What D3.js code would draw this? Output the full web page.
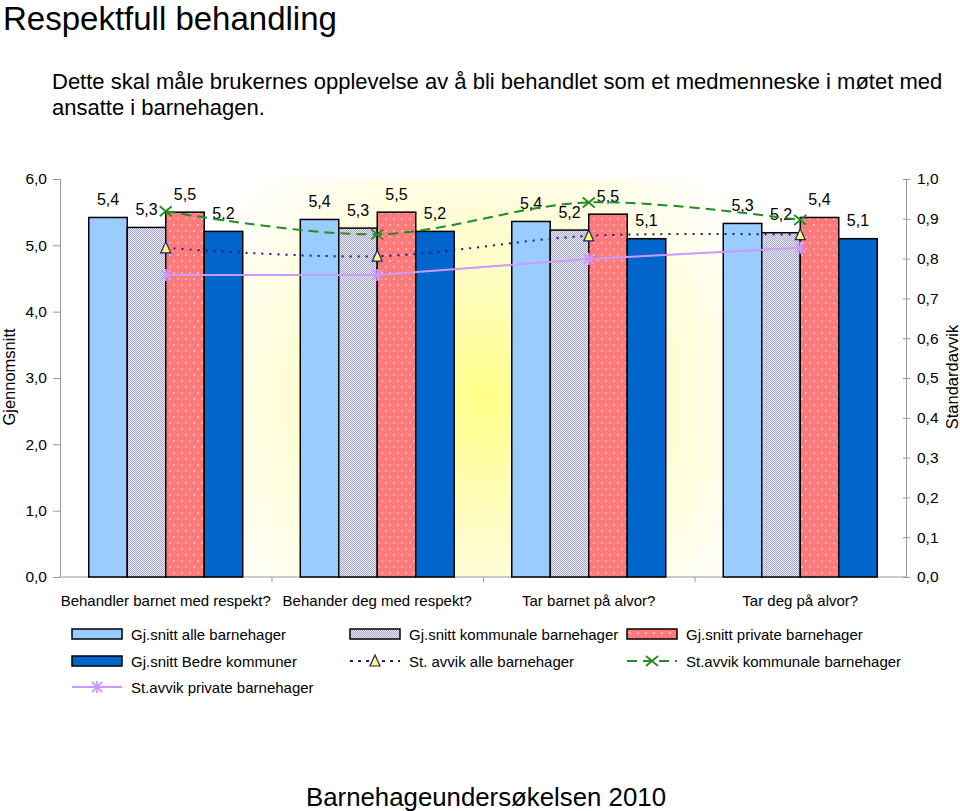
<!DOCTYPE html>
<html><head><meta charset="utf-8">
<script src="https://cdn.jsdelivr.net/npm/d3@7"></script>
<style>
body{margin:0;background:#fff;}
text{font-family:"Liberation Sans",Arial,Helvetica,sans-serif;fill:#000;}
</style></head>
<body>
<svg id="chart" width="960" height="811"></svg>
<script>
const categories = ["Behandler barnet med respekt?","Behander deg med respekt?","Tar barnet på alvor?","Tar deg på alvor?"];
const barSeriesNames = ["Gj.snitt alle barnehager","Gj.snitt kommunale barnehager","Gj.snitt private barnehager","Gj.snitt Bedre kommuner"];
const snittAlle = [5.42, 5.39, 5.36, 5.33];
const snittKommunale = [5.27, 5.26, 5.23, 5.19];
const snittPrivate = [5.50, 5.50, 5.47, 5.42];
const snittBedre = [5.21, 5.21, 5.10, 5.10];
const lineSeriesNames = ["St. avvik alle barnehager","St.avvik kommunale barnehager","St.avvik private barnehager"];
const avvikAlle = [0.827, 0.806, 0.857, 0.860];
const avvikKommunale = [0.919, 0.861, 0.941, 0.897];
const avvikPrivate = [0.759, 0.759, 0.799, 0.827];
const leftTicks = [0,1,2,3,4,5,6];
const rightTicks = [0,0.1,0.2,0.3,0.4,0.5,0.6,0.7,0.8,0.9,1.0];

const svg = d3.select("#chart");
const L = 60, R = 906, T = 179, B = 577;
const fmt = v => d3.format(".1f")(v).replace(".", ",");

const defs = svg.append("defs");
const gcx = (L+R)/2, gcy = (T+B)/2+20;
const rg = defs.append("radialGradient").attr("id","bg").attr("gradientUnits","userSpaceOnUse")
  .attr("cx",gcx).attr("cy",gcy).attr("r",280)
  .attr("gradientTransform",`translate(${gcx},${gcy}) scale(1.15,1.1) translate(${-gcx},${-gcy})`);
rg.append("stop").attr("offset","0").attr("stop-color","#ffff88");
rg.append("stop").attr("offset","0.45").attr("stop-color","#fffcc8");
rg.append("stop").attr("offset","1").attr("stop-color","#ffffff");

const pk = defs.append("pattern").attr("id","pk").attr("patternUnits","userSpaceOnUse").attr("width",2).attr("height",2);
pk.append("rect").attr("width",2).attr("height",2).attr("fill","#eeeefa");
pk.append("rect").attr("width",1).attr("height",1).attr("fill","#a4a4d4");
pk.append("rect").attr("x",1).attr("y",1).attr("width",1).attr("height",1).attr("fill","#a4a4d4");

const pp = defs.append("pattern").attr("id","pp").attr("patternUnits","userSpaceOnUse").attr("width",8).attr("height",12);
pp.append("rect").attr("width",8).attr("height",12).attr("fill","#ff7a7a");
pp.append("circle").attr("cx",2).attr("cy",3).attr("r",0.9).attr("fill","#ffd0d0");
pp.append("circle").attr("cx",6).attr("cy",9).attr("r",0.9).attr("fill","#ffd0d0");

// Titles
svg.append("text").attr("x",3).attr("y",30).attr("font-size",33).text("Respektfull behandling");
svg.append("text").attr("x",52).attr("y",89).attr("font-size",22).text("Dette skal måle brukernes opplevelse av å bli behandlet som et medmenneske i møtet med");
svg.append("text").attr("x",52).attr("y",115).attr("font-size",22).text("ansatte i barnehagen.");
svg.append("text").attr("x",486).attr("y",806).attr("font-size",25.8).attr("text-anchor","middle").text("Barnehageundersøkelsen 2010");

// Scales
const x0 = d3.scaleBand().domain(categories).range([L,R]).paddingInner(0.272).paddingOuter(0.136);
const x1 = d3.scaleBand().domain(barSeriesNames).range([0,x0.bandwidth()]);
const yL = d3.scaleLinear().domain([0,6]).range([B,T]);
const yR = d3.scaleLinear().domain([0,1]).range([B,T]);

// background
svg.append("rect").attr("x",L).attr("y",T).attr("width",R-L).attr("height",B-T).attr("fill","url(#bg)");

// axes
const axL = svg.append("g").attr("transform",`translate(${L},0)`)
  .call(d3.axisLeft(yL).tickValues(leftTicks).tickFormat(fmt).tickSize(7).tickPadding(6));
const axR = svg.append("g").attr("transform",`translate(${R},0)`)
  .call(d3.axisRight(yR).tickValues(rightTicks).tickFormat(fmt).tickSize(0).tickPadding(11));
axR.selectAll(".tick").append("line").attr("x1",-3).attr("x2",4).attr("stroke","#999");
const catBounds = d3.range(1,categories.length).map(i => L + i*x0.step());
const axB = svg.append("g").attr("transform",`translate(0,${B})`)
  .call(d3.axisBottom(d3.scaleLinear().domain([L,R]).range([L,R])).tickValues(catBounds).tickFormat("").tickSize(5));
[axL,axR,axB].forEach(a=>{
  a.select(".domain").attr("stroke","#999").attr("stroke-width",1);
  a.selectAll(".tick line").attr("stroke","#999");
  a.selectAll(".tick text").attr("font-size",15.5).attr("fill","#000").attr("font-family","Liberation Sans, Arial, sans-serif");
});
axB.select(".domain").attr("d",`M${L},0H${R}`);

// category labels
svg.append("g").selectAll("text").data(categories).join("text")
  .attr("x",d=>x0(d)+x0.bandwidth()/2).attr("y",606).attr("text-anchor","middle").attr("font-size",15).text(d=>d);

// Bars
const barData = [snittAlle, snittKommunale, snittPrivate, snittBedre];
const barFill = ["#99ccff","url(#pk)","url(#pp)","#0066cc"];
barSeriesNames.forEach((s,si)=>{
  const g = svg.append("g");
  g.selectAll("rect").data(barData[si]).join("rect")
    .attr("x",(d,i)=>x0(categories[i])+x1(s)).attr("width",x1.bandwidth())
    .attr("y",d=>yL(d)).attr("height",d=>B-yL(d))
    .attr("fill",barFill[si]).attr("stroke","#000").attr("stroke-width",1.5);
});
// Bar labels
barSeriesNames.forEach((s,si)=>{
  svg.append("g").selectAll("text").data(barData[si]).join("text")
    .attr("x",(d,i)=>x0(categories[i])+x1(s)+x1.bandwidth()/2)
    .attr("y",d=>yL(d)-12.5).attr("text-anchor","middle").attr("font-size",16).text(d=>fmt(d));
});

// Lines
const cx = i => x0(categories[i]) + x0.bandwidth()/2;
const smooth = d3.line().x((d,i)=>cx(i)).y(d=>yR(d)).curve(d3.curveCatmullRom.alpha(0.5));
const straight = d3.line().x((d,i)=>cx(i)).y(d=>yR(d));

svg.append("path").attr("d",smooth(avvikAlle)).attr("fill","none").attr("stroke","#1a1a80").attr("stroke-width",2).attr("stroke-dasharray","2,6");
svg.append("path").attr("d",smooth(avvikKommunale)).attr("fill","none").attr("stroke","#228b22").attr("stroke-width",2).attr("stroke-dasharray","10,6");
svg.append("path").attr("d",straight(avvikPrivate)).attr("fill","none").attr("stroke","#cc99ff").attr("stroke-width",2);

function tri(g,x,y){ g.append("path").attr("d",`M${x},${y-6}L${x+5},${y+5}L${x-5},${y+5}Z`).attr("fill","#ffff66").attr("stroke","#1a1a80").attr("stroke-width",1.2); }
function cross(g,x,y,c){ g.append("path").attr("d",`M${x-6},${y-5}L${x+6},${y+5}M${x-6},${y+5}L${x+6},${y-5}`).attr("stroke",c).attr("stroke-width",1.8).attr("fill","none"); }
function star(g,x,y,c){ g.append("path").attr("d",`M${x-5},${y-5}L${x+5},${y+5}M${x-5},${y+5}L${x+5},${y-5}M${x},${y-6}L${x},${y+6}`).attr("stroke",c).attr("stroke-width",1.8).attr("fill","none"); }
const mk = svg.append("g");
avvikAlle.forEach((d,i)=>tri(mk,cx(i),yR(d)));
avvikKommunale.forEach((d,i)=>cross(mk,cx(i),yR(d),"#228b22"));
avvikPrivate.forEach((d,i)=>star(mk,cx(i),yR(d),"#cc99ff"));

// axis titles
svg.append("text").attr("transform","translate(15,377) rotate(-90)").attr("text-anchor","middle").attr("font-size",16.5).text("Gjennomsnitt");
svg.append("text").attr("transform","translate(958,377) rotate(-90)").attr("text-anchor","middle").attr("font-size",16.5).text("Standardavvik");

// Legend
const lg = svg.append("g");
const items = [
  {t:"bar",fill:"#99ccff",name:barSeriesNames[0]},
  {t:"bar",fill:"url(#pk)",name:barSeriesNames[1]},
  {t:"bar",fill:"url(#pp)",name:barSeriesNames[2]},
  {t:"bar",fill:"#0066cc",name:barSeriesNames[3]},
  {t:"tri",name:lineSeriesNames[0]},
  {t:"cross",name:lineSeriesNames[1]},
  {t:"star",name:lineSeriesNames[2]}
];
const colX = [72,350,627], rowY = [634,661,687];
items.forEach((it,k)=>{
  const x = colX[k%3], y = rowY[Math.floor(k/3)];
  if(it.t==="bar"){
    lg.append("rect").attr("x",x).attr("y",y-5).attr("width",50).attr("height",10).attr("fill",it.fill).attr("stroke","#000").attr("stroke-width",1.5);
  } else if(it.t==="tri"){
    lg.append("line").attr("x1",x).attr("x2",x+50).attr("y1",y).attr("y2",y).attr("stroke","#1a1a80").attr("stroke-width",2).attr("stroke-dasharray","3,5");
    tri(lg,x+25,y);
  } else if(it.t==="cross"){
    lg.append("line").attr("x1",x).attr("x2",x+50).attr("y1",y).attr("y2",y).attr("stroke","#228b22").attr("stroke-width",2).attr("stroke-dasharray","10,6");
    cross(lg,x+25,y,"#228b22");
  } else {
    lg.append("line").attr("x1",x).attr("x2",x+50).attr("y1",y).attr("y2",y).attr("stroke","#cc99ff").attr("stroke-width",2);
    star(lg,x+25,y,"#cc99ff");
  }
  lg.append("text").attr("x",x+59).attr("y",y+5.5).attr("font-size",15).text(it.name);
});
</script>
</body></html>
